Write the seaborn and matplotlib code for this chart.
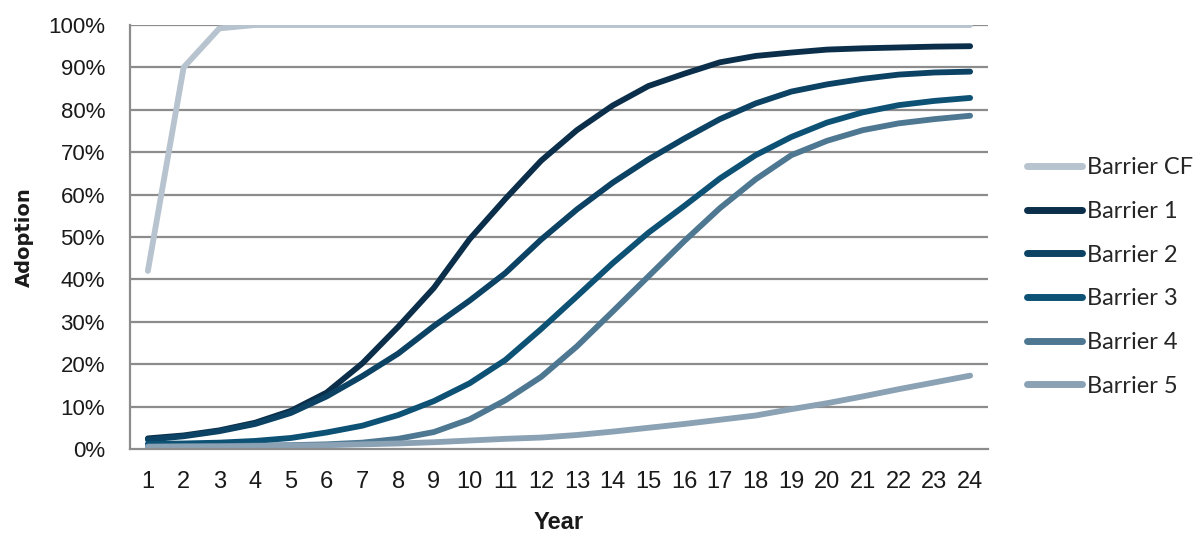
import numpy as np
import pandas as pd
import seaborn as sns
import matplotlib
matplotlib.use("Agg")
import matplotlib.pyplot as plt
from matplotlib.ticker import PercentFormatter

years = list(range(1, 25))

barrier_cf = [42, 90, 99.2, 100, 100, 100, 100, 100, 100, 100, 100, 100,
              100, 100, 100, 100, 100, 100, 100, 100, 100, 100, 100, 100]
barrier_1 = [2.5, 3.2, 4.4, 6.2, 9.0, 13.3, 20.2, 28.8, 38.0, 49.5, 59.0, 68.0,
             75.2, 81.0, 85.6, 88.5, 91.2, 92.7, 93.5, 94.2, 94.5, 94.7, 94.9, 95.0]
barrier_2 = [2.2, 3.0, 4.2, 5.9, 8.5, 12.4, 17.2, 22.5, 29.0, 35.0, 41.5, 49.4,
             56.5, 62.8, 68.3, 73.2, 77.8, 81.5, 84.3, 86.0, 87.3, 88.3, 88.8, 89.0]
barrier_3 = [1.2, 1.3, 1.5, 1.9, 2.6, 3.9, 5.5, 8.0, 11.3, 15.5, 21.0, 28.3,
             36.0, 43.8, 51.0, 57.3, 63.8, 69.3, 73.6, 77.0, 79.4, 81.1, 82.1, 82.8]
barrier_4 = [0.6, 0.6, 0.7, 0.8, 0.9, 1.1, 1.5, 2.4, 4.0, 7.0, 11.5, 17.0,
             24.2, 32.4, 40.7, 49.0, 56.8, 63.6, 69.3, 72.7, 75.2, 76.8, 77.8, 78.6]
barrier_5 = [0.5, 0.6, 0.6, 0.7, 0.8, 0.9, 1.1, 1.3, 1.6, 2.0, 2.4, 2.7,
             3.3, 4.1, 5.0, 5.9, 6.9, 7.9, 9.4, 10.8, 12.4, 14.1, 15.7, 17.3]

series_names = ["Barrier CF", "Barrier 1", "Barrier 2", "Barrier 3", "Barrier 4", "Barrier 5"]
series_values = [barrier_cf, barrier_1, barrier_2, barrier_3, barrier_4, barrier_5]
colors = ["#b7c3ce", "#0b2f4a", "#0c4263", "#0d5175", "#4e7792", "#8aa2b4"]

df = pd.concat(
    [pd.DataFrame({"Year": years, "Adoption": np.array(v) / 100.0, "Series": n})
     for n, v in zip(series_names, series_values)],
    ignore_index=True,
)

sns.set_theme(style="white")
plt.rcParams["font.family"] = ["Liberation Sans", "DejaVu Sans"]

fig = plt.figure(figsize=(11.94, 5.34), dpi=100)
ax = fig.add_axes([130 / 1194, 1 - 449 / 534, (988 - 130) / 1194, (449 - 25) / 534])

# horizontal gridlines behind the curves
for v in np.arange(0.1, 1.01, 0.1):
    ax.axhline(v, color="#8c8c8c", lw=1.6, zorder=0)

sns.lineplot(
    data=df, x="Year", y="Adoption", hue="Series", hue_order=series_names,
    palette=dict(zip(series_names, colors)), ax=ax, linewidth=4.2,
    legend=False, sort=False,
)
for line in ax.lines[10:]:
    line.set_solid_capstyle("round")
    line.set_solid_joinstyle("round")

ax.set_xlim(0.5, 24.5)
ax.set_ylim(0, 1.0)
ax.set_xticks(years)
ax.set_xticklabels([str(y) for y in years], fontsize=17)
ax.set_yticks(np.arange(0, 1.01, 0.1))
ax.yaxis.set_major_formatter(PercentFormatter(1.0, decimals=0))
for lbl in ax.get_yticklabels():
    lbl.set_fontsize(16)
ax.tick_params(axis="both", length=0, colors="#1a1a1a")
ax.tick_params(axis="x", pad=16)
ax.tick_params(axis="y", pad=18)

for side in ["top", "right"]:
    ax.spines[side].set_visible(False)
for side in ["left", "bottom"]:
    ax.spines[side].set_color("#8c8c8c")
    ax.spines[side].set_linewidth(1.6)

ax.set_xlabel("Year", fontweight="bold", fontsize=17, labelpad=13, color="#1a1a1a")
ax.set_ylabel("Adoption", family="DejaVu Sans", fontweight="bold", fontsize=14,
              labelpad=10, color="#1a1a1a")

handles = [plt.Line2D([0], [0], color=c, lw=5, solid_capstyle="round") for c in colors]
fig.legend(
    handles, series_names, loc="center left",
    bbox_to_anchor=(1027 / 1194, 1 - 277 / 534), frameon=False,
    prop={"family": "Lato", "size": 17}, handlelength=2.33, handletextpad=0.22,
    labelspacing=0.96, borderpad=0, borderaxespad=0,
)

fig.savefig("out.png", dpi=100, facecolor="white")
